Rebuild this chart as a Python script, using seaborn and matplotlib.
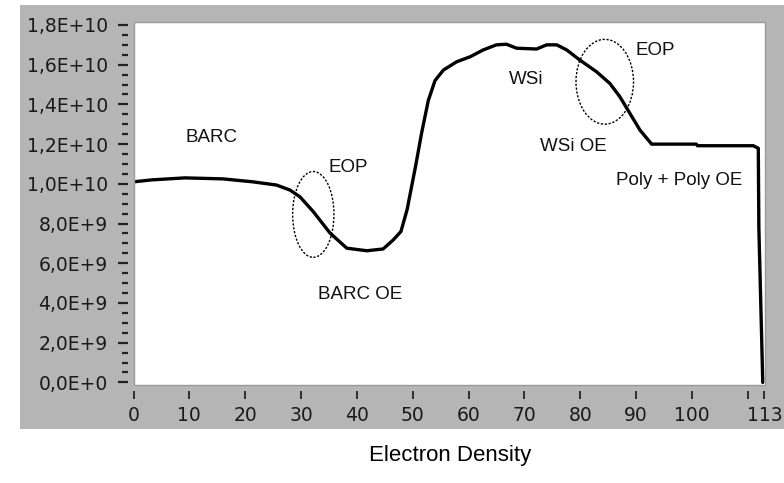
import matplotlib
matplotlib.use("Agg")
import matplotlib.pyplot as plt
from matplotlib.patches import Ellipse, Rectangle
import seaborn as sns
import pandas as pd

# ---- data ----
position = [0, 3.3, 9.2, 16, 21.4, 25.6, 28, 29.8, 32.2, 35.2, 38.2, 41.8, 44.7,
            46.5, 47.9, 49.0, 50.5, 51.6, 52.8, 54, 55.5, 57.9, 60.3, 62.6, 65,
            66.8, 68.6, 72.2, 74, 75.8, 77.6, 79.9, 82.9, 85.3, 87.1, 88.9, 90.7,
            92.8, 100.8, 101.0, 111.0, 111.9, 112.0, 112.35, 112.7]
density = [1.01e10, 1.02e10, 1.03e10, 1.025e10, 1.01e10, 9.94e9, 9.69e9, 9.35e9,
           8.6e9, 7.52e9, 6.76e9, 6.63e9, 6.72e9, 7.17e9, 7.6e9, 8.7e9, 1.086e10,
           1.256e10, 1.42e10, 1.52e10, 1.573e10, 1.615e10, 1.64e10, 1.674e10,
           1.70e10, 1.703e10, 1.683e10, 1.679e10, 1.70e10, 1.70e10, 1.674e10,
           1.624e10, 1.565e10, 1.506e10, 1.439e10, 1.355e10, 1.271e10, 1.20e10,
           1.20e10, 1.192e10, 1.192e10, 1.179e10, 7.8e9, 3.9e9, 0.0]

x_ticks = [0, 10, 20, 30, 40, 50, 60, 70, 80, 90, 100, 110, 113]
x_ticklabels = ["0", "10", "20", "30", "40", "50", "60", "70", "80", "90", "100", "", "113"]
y_ticks = [0, 2e9, 4e9, 6e9, 8e9, 1e10, 1.2e10, 1.4e10, 1.6e10, 1.8e10]
y_ticklabels = ["0,0E+0", "2,0E+9", "4,0E+9", "6,0E+9", "8,0E+9",
                "1,0E+10", "1,2E+10", "1,4E+10", "1,6E+10", "1,8E+10"]

label_texts = ["BARC", "EOP", "BARC OE", "WSi", "EOP", "WSi OE", "Poly + Poly OE"]
label_x = [14.0, 38.4, 40.6, 70.3, 93.4, 78.8, 97.7]
label_y = [1.231e10, 1.082e10, 4.45e9, 1.525e10, 1.669e10, 1.19e10, 1.019e10]

ellipse_x = [32.2, 84.4]
ellipse_y = [8.46e9, 1.514e10]
ellipse_w = [7.4, 10.3]
ellipse_h = [4.32e9, 4.27e9]

caption = "Electron Density"

# ---- figure ----
sns.set_style("white")
plt.rcParams["font.family"] = ["DejaVu Sans"]

fig = plt.figure(figsize=(7.84, 4.83), dpi=100)
fig.patch.set_facecolor("white")
fig.patches.append(Rectangle((20 / 784, 1 - 429 / 483), 1 - 20 / 784, (429 - 5) / 483,
                             transform=fig.transFigure, facecolor="#b5b5b5",
                             edgecolor="none", zorder=-10))

ax = fig.add_axes([133.5 / 784, 1 - 385 / 483, (765 - 133.5) / 784, (385 - 22) / 483])
ax.set_facecolor("white")

df = pd.DataFrame({"pos": position, "dens": density})
sns.lineplot(data=df, x="pos", y="dens", ax=ax, color="black", linewidth=2.4,
             sort=False, estimator=None)

for cx, cy, w, h in zip(ellipse_x, ellipse_y, ellipse_w, ellipse_h):
    ax.add_patch(Ellipse((cx, cy), w, h, fill=False, edgecolor="black",
                         linewidth=1.0, linestyle=(0, (1.6, 1.2))))

for t, tx, ty in zip(label_texts, label_x, label_y):
    ax.text(tx, ty, t, ha="center", va="center", fontsize=13.5,
            family="Liberation Sans", color="#111111")

ax.set_xlim(0, 113.1)
ax.set_ylim(-1.3e8, 1.815e10)
ax.set_xticks(x_ticks)
ax.set_xticklabels(x_ticklabels)
ax.set_yticks(y_ticks)
ax.set_yticklabels(y_ticklabels)
ax.set_yticks([v * 5e8 for v in range(37) if v % 4 != 0], minor=True)
ax.set_xlabel("")
ax.set_ylabel("")

for s in ["top", "right"]:
    ax.spines[s].set_visible(False)
for s in ["left", "bottom"]:
    ax.spines[s].set_position(("outward", 4))
    ax.spines[s].set_visible(False)

ax.add_patch(Rectangle((0, 0), 1, 1, transform=ax.transAxes, fill=False,
                       edgecolor="#9a9a9a", linewidth=1.0, clip_on=False, zorder=5))

ax.tick_params(axis="y", which="major", direction="out", length=7.5, width=1.6,
               color="#222222", labelsize=13.5, pad=7, labelcolor="#1a1a1a", left=True)
ax.tick_params(axis="y", which="minor", direction="out", length=4.5, width=1.6,
               color="#222222", left=True)
ax.tick_params(axis="x", which="major", direction="out", length=6, width=1.3,
               color="#222222", labelsize=13.5, pad=5, labelcolor="#1a1a1a", bottom=True)

fig.text(450 / 784, 1 - 456 / 483, caption, ha="center", va="center",
         fontsize=16, family="Liberation Sans", color="black")

fig.savefig("out.png", dpi=100)
